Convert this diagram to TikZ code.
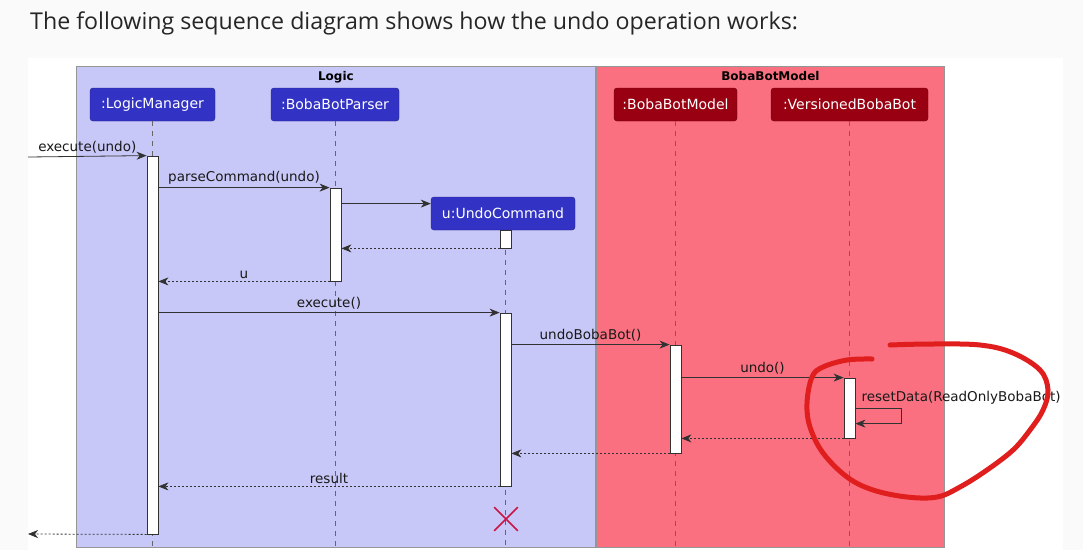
\documentclass[tikz,border=0pt]{standalone}
\usepackage{fontspec}
\setmainfont{DejaVu Sans}
\newfontfamily\titlefont{Open Sans}
\usetikzlibrary{arrows.meta,positioning,shapes.misc,calc}
\definecolor{pagebg}{RGB}{250,250,250}
\definecolor{logicbg}{RGB}{200,200,248}
\definecolor{modelbg}{RGB}{250,112,128}
\definecolor{grpline}{RGB}{150,150,150}
\definecolor{logicpart}{RGB}{50,50,196}
\definecolor{modelpart}{RGB}{153,0,18}
\definecolor{inkline}{RGB}{50,50,50}
\definecolor{destroyx}{RGB}{200,20,70}
\definecolor{redink}{RGB}{225,30,30}

\begin{document}
\begin{tikzpicture}[
    x=1pt, y=-1pt,
    grp/.style={draw=grpline, line width=0.8pt, anchor=north west, inner sep=0pt},
    grptitle/.style={font=\fontsize{12}{14}\selectfont\bfseries, inner sep=0pt},
    part/.style={draw=#1!70!black, fill=#1, rounded corners=3pt, minimum height=33pt, text=white, font=\fontsize{14}{16}\selectfont, inner sep=0pt},
    act/.style={draw=inkline, fill=white, minimum width=11pt, inner sep=0pt, line width=0.8pt},
    life/.style={draw=gray!80!black, dash pattern=on 5pt off 5pt, line width=0.7pt},
    msg/.style={-{Stealth[length=10pt,width=8pt,inset=3pt]}, draw=inkline, line width=0.8pt},
    ret/.style={msg, dash pattern=on 2pt off 2pt},
    lbl/.style={font=\fontsize{13.5}{15}\selectfont, inner sep=2.5pt, text=black!90}
]
\useasboundingbox (0,0) rectangle (1083,550);
\fill[pagebg] (0,0) rectangle (1083,550);
\fill[white] (28,58) rectangle (1063,550);

% ========== TITLE ==========
\node[anchor=base west, font=\titlefont\fontsize{23.2}{26}\selectfont, text=black!85, inner sep=0pt] (title) at (30,29) {The following sequence diagram shows how the undo operation works:};

% ========== GROUPS ==========
\node[grp, fill=logicbg, minimum width=519pt, minimum height=481pt] (logic) at (76,66) {};
\node[grp, fill=modelbg, minimum width=348pt, minimum height=481pt] (model) at (596,66) {};
\node[grptitle, below=5pt of logic.north] (logict) {Logic};
\node[grptitle, below=5pt of model.north] (modelt) {BobaBotModel};

% ========== PARTICIPANTS ==========
\node[part=logicpart, minimum width=125pt] (lm) at (152.5,104.5) {:LogicManager};
\node[part=logicpart, minimum width=128pt] (bp) at (335,104.5) {:BobaBotParser};
\node[part=modelpart, minimum width=123pt] (bm) at (675.5,104.5) {:BobaBotModel};
\node[part=modelpart, minimum width=157pt] (vb) at (849.5,104.5) {:VersionedBobaBot};
\node[part=logicpart, minimum width=144pt] (uc) at (503,213.5) {u:UndoCommand};

% lifelines
\coordinate (bot) at (0,550);
\draw[life] (lm.south) -- (lm.south |- bot);
\draw[life] (bp.south) -- (bp.south |- bot);
\draw[life] (bm.south) -- (bm.south |- bot);
\draw[life] (vb.south) -- (vb.south |- bot);
\draw[life] (uc.south -| 505.5,0) -- (505.5,550);

% ========== ACTIVATIONS ==========
\node[act, minimum height=378pt] (lmAct) at (152.5,345) {};
\node[act, minimum height=93pt] (bpAct) at (335.5,234.5) {};
\node[act, minimum height=18pt] (ucAct1) at (505.5,239) {};
\node[act, minimum height=173pt] (ucAct2) at (505.5,399.5) {};
\node[act, minimum height=108pt] (bmAct) at (675.5,399) {};
\node[act, minimum height=60pt] (vbAct) at (849.5,408) {};

% ========== MESSAGES ==========
\coordinate (in) at (28,157);
\coordinate (out) at (28,534);
\draw[msg] (in) -- node[lbl, above] {execute(undo)} (lmAct.north west);
\draw[msg] (lmAct.east |- bpAct.north) -- node[lbl, above] {parseCommand(undo)} (bpAct.north west);
\coordinate (mkU) at ([yshift=-16pt]bpAct.north east);
\draw[msg] (mkU) -- (mkU -| uc.west);
\draw[ret] (ucAct1.south west) -- (bpAct.east |- ucAct1.south);
\draw[ret] (bpAct.south west) -- node[lbl, above] {u} (lmAct.east |- bpAct.south);
\draw[msg] (lmAct.east |- ucAct2.north) -- node[lbl, above] {execute()} (ucAct2.north west);
\draw[msg] (ucAct2.east |- bmAct.north) -- node[lbl, above] {undoBobaBot()} (bmAct.north west);
\draw[msg] (bmAct.east |- vbAct.north) -- node[lbl, above] {undo()} (vbAct.north west);

% self call
\coordinate (rs) at ([yshift=-31pt]vbAct.north east);
\draw[msg] (rs) -- ++(46,0) -- ++(0,15) -- ++(-46,0);
\node[lbl, anchor=south west, inner sep=0pt] (rsl) at ([xshift=6pt,yshift=4pt]rs) {resetData(ReadOnlyBobaBot)};

\draw[ret] (vbAct.south west) -- (bmAct.east |- vbAct.south);
\draw[ret] (bmAct.south west) -- (ucAct2.east |- bmAct.south);
\draw[ret] (ucAct2.south west) -- node[lbl, above] {result} (lmAct.east |- ucAct2.south);
\draw[ret] (lmAct.south west) -- (out);

% destroy
\node[cross out, draw=destroyx, line width=1.6pt, minimum size=22pt, inner sep=0pt] (ucX) at (506,519) {};

% ========== RED ANNOTATION ==========
\draw[redink, line width=5pt, line cap=round, line join=round] plot[smooth, tension=0.6] coordinates {(890,345) (930,344) (980,345) (1013,353) (1040,370) (1048,390) (1043,410) (1030,430) (1013,450) (987,470) (960,487) (937,497) (907,497) (873,490) (847,477) (823,453) (810,427) (807,403) (812,377) (823,367) (847,360) (872,359)};

\end{tikzpicture}
\end{document}
